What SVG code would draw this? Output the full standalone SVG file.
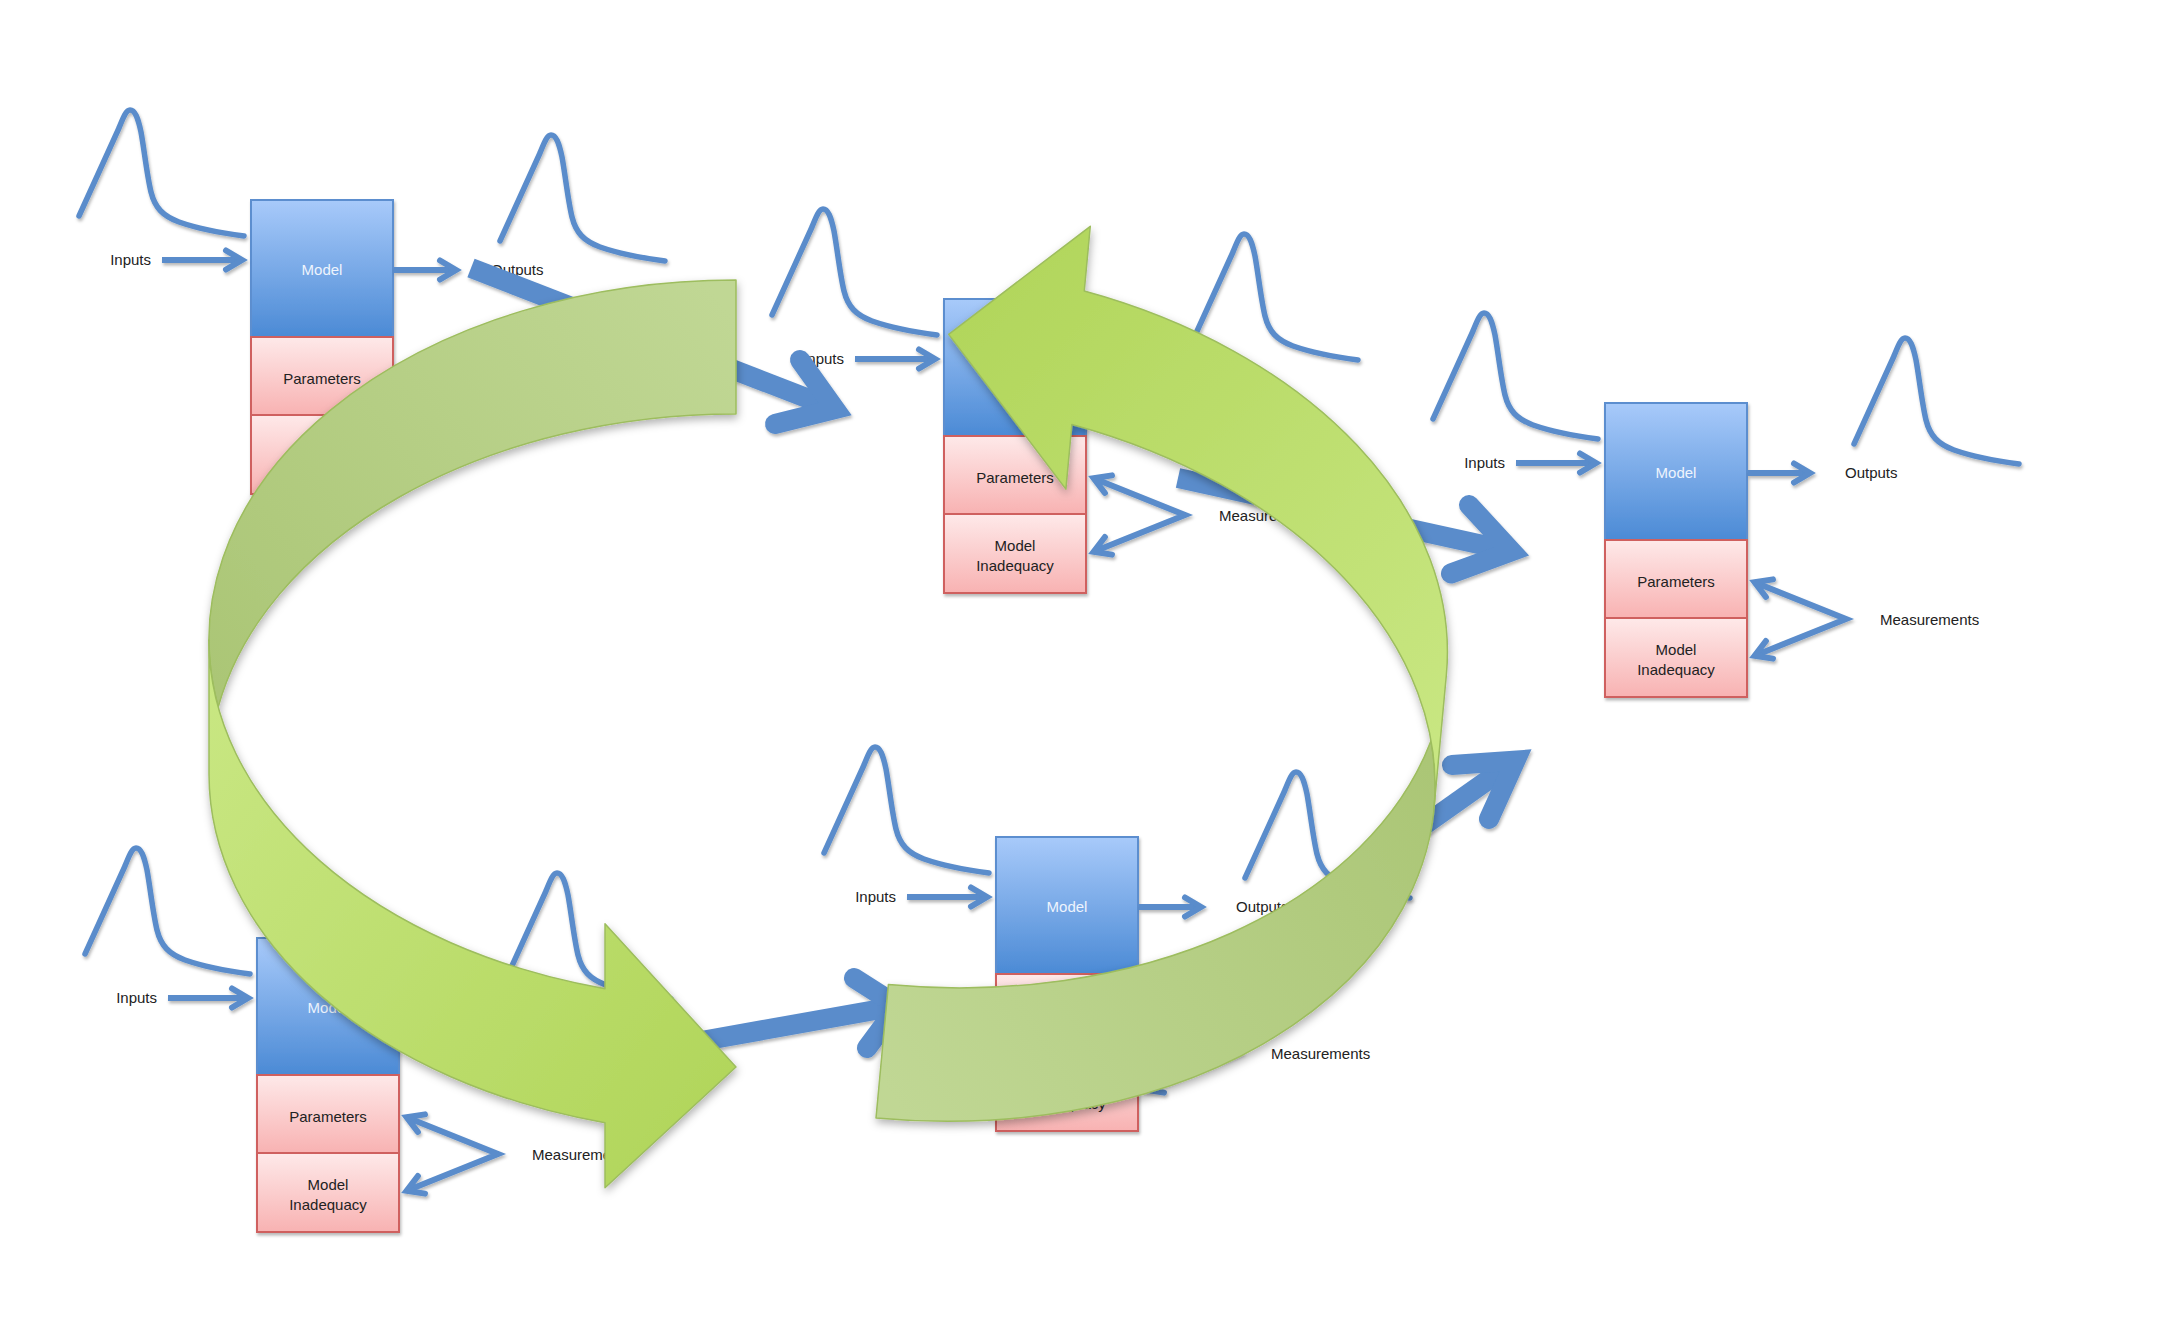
<svg xmlns="http://www.w3.org/2000/svg" xmlns:xlink="http://www.w3.org/1999/xlink" width="2170" height="1328" viewBox="0 0 2170 1328">
  <defs>
    <style>
      text { font-family: "Liberation Sans", Arial, sans-serif; font-size: 15px; fill: #222; }
      .mt { fill: #eef4fd; text-anchor: middle; }
      .ct { text-anchor: middle; }
      .rt { text-anchor: end; }
      .curve { fill: none; stroke: #5a8ccb; stroke-width: 5.5; stroke-linecap: round; stroke-linejoin: round; }
      .thin { fill: none; stroke: #5a8ccb; stroke-width: 6; stroke-linejoin: miter; }
      .arr { marker-end: url(#vh); }
      .arr2 { marker-start: url(#vh); marker-end: url(#vh); }
      .shaft { fill: none; stroke: #5a8ccb; stroke-width: 20; stroke-linecap: butt; }
      .head { fill: none; stroke: #5a8ccb; stroke-width: 20; stroke-linecap: round; stroke-linejoin: miter; stroke-miterlimit: 6; }
      .model { fill: url(#gModel); stroke: #5b8ecf; stroke-width: 2; }
      .pink { fill: url(#gPink); stroke: #cf605e; stroke-width: 2; }
      .back { fill: url(#gBack); stroke: #9dbd5e; stroke-width: 1.5; stroke-linejoin: round; }
      .front { fill: url(#gFront); stroke: #9dbd5e; stroke-width: 1.5; stroke-linejoin: round; }
    </style>

    <linearGradient id="gModel" x1="0" y1="0" x2="0" y2="1">
      <stop offset="0" stop-color="#a8cafa"/>
      <stop offset="1" stop-color="#4b8ad5"/>
    </linearGradient>
    <linearGradient id="gPink" x1="0" y1="0" x2="0" y2="1">
      <stop offset="0" stop-color="#fee9e9"/>
      <stop offset="1" stop-color="#f8b2b2"/>
    </linearGradient>
    <!-- ribbon colours, in the local frame of the curved arrow -->
    <linearGradient id="gFront" gradientUnits="userSpaceOnUse" x1="-527" y1="380" x2="0" y2="787">
      <stop offset="0" stop-color="#c9e783"/>
      <stop offset="1" stop-color="#b2d65c"/>
    </linearGradient>
    <linearGradient id="gBack" gradientUnits="userSpaceOnUse" x1="0" y1="40" x2="-500" y2="430">
      <stop offset="0" stop-color="#c0d794"/>
      <stop offset="1" stop-color="#abc676"/>
    </linearGradient>

    <filter id="sh" x="-50%" y="-50%" width="200%" height="200%">
      <feDropShadow dx="1.2" dy="2.5" stdDeviation="1.6" flood-color="#000" flood-opacity="0.28"/>
    </filter>
    <filter id="gsh" x="-10%" y="-10%" width="125%" height="125%">
      <feDropShadow dx="1" dy="4" stdDeviation="4" flood-color="#000" flood-opacity="0.3"/>
    </filter>

    <!-- open V head for the thin arrows -->
    <marker id="vh" markerUnits="userSpaceOnUse" orient="auto-start-reverse" refX="0" refY="0" markerWidth="40" markerHeight="40" style="overflow:visible">
      <path d="M-16,-9.5 L0,0 L-16,9.5" fill="none" stroke="#5a8ccb" stroke-width="6" stroke-linecap="round" stroke-linejoin="miter"/>
    </marker>

    <!-- skewed peak used for input and output distributions -->
    <path id="bell" d="M0,0 L40,-88 C44,-98 47,-106 51,-106 C56,-106 59,-98 62,-84 C65,-68 68,-40 72,-24 C76,-8 84,0 100,6 C120,13 142,17 165,20"/>

    <!-- curved ribbon arrow: back band (top) twists into front band ending in a head -->
    <g id="cyc">
      <path class="back" d="M0,134 A527,360 0 0 0 -517.8,427 A527,360 0 0 1 0,0 Z"/>
      <path class="front" d="M-527,360 A527,360 0 0 0 -131,708.7 L-131,643.7 L0,787 L-131,907.7 L-131,842.7 A527,360 0 0 1 -527,494 Z"/>
    </g>
  </defs>

  <rect width="2170" height="1328" fill="#ffffff"/>

  <!-- model stages -->
  <g id="node-1" transform="translate(251,200)">
    <use href="#bell" x="-172" y="16" class="curve" filter="url(#sh)"/>
    <use href="#bell" x="249" y="41" class="curve" filter="url(#sh)"/>
    <g filter="url(#sh)">
      <rect class="model" x="0" y="0" width="142" height="137"/>
      <rect class="pink" x="0" y="137" width="142" height="78"/>
      <rect class="pink" x="0" y="215" width="142" height="79"/>
    </g>
    <text class="mt" x="71" y="75">Model</text>
    <text class="ct" x="71" y="184">Parameters</text>
    <text class="ct" x="71" y="252">Model</text>
    <text class="ct" x="71" y="272">Inadequacy</text>
    <text class="rt" x="-100" y="65">Inputs</text>
    <text x="240" y="75">Outputs</text>
    <text x="275" y="222">Measurements</text>
  </g>

  <g id="node-2" transform="translate(944,299)">
    <use href="#bell" x="-172" y="16" class="curve" filter="url(#sh)"/>
    <use href="#bell" x="249" y="41" class="curve" filter="url(#sh)"/>
    <g filter="url(#sh)">
      <rect class="model" x="0" y="0" width="142" height="137"/>
      <rect class="pink" x="0" y="137" width="142" height="78"/>
      <rect class="pink" x="0" y="215" width="142" height="79"/>
    </g>
    <text class="mt" x="71" y="75">Model</text>
    <text class="ct" x="71" y="184">Parameters</text>
    <text class="ct" x="71" y="252">Model</text>
    <text class="ct" x="71" y="272">Inadequacy</text>
    <text class="rt" x="-100" y="65">Inputs</text>
    <text x="240" y="75">Outputs</text>
    <text x="275" y="222">Measurements</text>
  </g>

  <g id="node-3" transform="translate(1605,403)">
    <use href="#bell" x="-172" y="16" class="curve" filter="url(#sh)"/>
    <use href="#bell" x="249" y="41" class="curve" filter="url(#sh)"/>
    <g filter="url(#sh)">
      <rect class="model" x="0" y="0" width="142" height="137"/>
      <rect class="pink" x="0" y="137" width="142" height="78"/>
      <rect class="pink" x="0" y="215" width="142" height="79"/>
    </g>
    <text class="mt" x="71" y="75">Model</text>
    <text class="ct" x="71" y="184">Parameters</text>
    <text class="ct" x="71" y="252">Model</text>
    <text class="ct" x="71" y="272">Inadequacy</text>
    <text class="rt" x="-100" y="65">Inputs</text>
    <text x="240" y="75">Outputs</text>
    <text x="275" y="222">Measurements</text>
  </g>

  <g id="node-4" transform="translate(996,837)">
    <use href="#bell" x="-172" y="16" class="curve" filter="url(#sh)"/>
    <use href="#bell" x="249" y="41" class="curve" filter="url(#sh)"/>
    <g filter="url(#sh)">
      <rect class="model" x="0" y="0" width="142" height="137"/>
      <rect class="pink" x="0" y="137" width="142" height="78"/>
      <rect class="pink" x="0" y="215" width="142" height="79"/>
    </g>
    <text class="mt" x="71" y="75">Model</text>
    <text class="ct" x="71" y="184">Parameters</text>
    <text class="ct" x="71" y="252">Model</text>
    <text class="ct" x="71" y="272">Inadequacy</text>
    <text class="rt" x="-100" y="65">Inputs</text>
    <text x="240" y="75">Outputs</text>
    <text x="275" y="222">Measurements</text>
  </g>

  <g id="node-5" transform="translate(257,938)">
    <use href="#bell" x="-172" y="16" class="curve" filter="url(#sh)"/>
    <use href="#bell" x="249" y="41" class="curve" filter="url(#sh)"/>
    <g filter="url(#sh)">
      <rect class="model" x="0" y="0" width="142" height="137"/>
      <rect class="pink" x="0" y="137" width="142" height="78"/>
      <rect class="pink" x="0" y="215" width="142" height="79"/>
    </g>
    <text class="mt" x="71" y="75">Model</text>
    <text class="ct" x="71" y="184">Parameters</text>
    <text class="ct" x="71" y="252">Model</text>
    <text class="ct" x="71" y="272">Inadequacy</text>
    <text class="rt" x="-100" y="65">Inputs</text>
    <text x="240" y="75">Outputs</text>
    <text x="275" y="222">Measurements</text>
  </g>

  <!-- connectors: input/output/measurement arrows per stage, then the stage-to-stage arrows -->
  <g id="connectors">
    <g transform="translate(251,200)" filter="url(#sh)">
      <path class="thin arr" d="M-89,60 L-9,60"/>
      <path class="thin arr" d="M143,70 L205,70"/>
      <path class="thin arr2" d="M149.6,179.2 L241,216 L149.6,252.8"/>
    </g>
    <g transform="translate(944,299)" filter="url(#sh)">
      <path class="thin arr" d="M-89,60 L-9,60"/>
      <path class="thin arr" d="M143,70 L205,70"/>
      <path class="thin arr2" d="M149.6,179.2 L241,216 L149.6,252.8"/>
    </g>
    <g transform="translate(1605,403)" filter="url(#sh)">
      <path class="thin arr" d="M-89,60 L-9,60"/>
      <path class="thin arr" d="M143,70 L205,70"/>
      <path class="thin arr2" d="M149.6,179.2 L241,216 L149.6,252.8"/>
    </g>
    <g transform="translate(996,837)" filter="url(#sh)">
      <path class="thin arr" d="M-89,60 L-9,60"/>
      <path class="thin arr" d="M143,70 L205,70"/>
      <path class="thin arr2" d="M149.6,179.2 L241,216 L149.6,252.8"/>
    </g>
    <g transform="translate(257,938)" filter="url(#sh)">
      <path class="thin arr" d="M-89,60 L-9,60"/>
      <path class="thin arr" d="M143,70 L205,70"/>
      <path class="thin arr2" d="M149.6,179.2 L241,216 L149.6,252.8"/>
    </g>

    <g filter="url(#sh)">
      <!-- stage 1 to stage 2 -->
      <path class="shaft" d="M471,268 L835,409"/>
      <path class="head" d="M800,360 L835,409 L775,424"/>
      <!-- stage 2 to stage 3 -->
      <path class="shaft" d="M1178,478 L1511.6,551.3"/>
      <path class="head" d="M1469,505 L1511.6,551.3 L1451,573.5"/>
      <!-- stage 5 to stage 4 -->
      <path class="shaft" d="M640,1052 L898,1006"/>
      <path class="head" d="M854,978 L898,1006 L867,1048"/>
      <!-- stage 4 to stage 3 -->
      <path class="shaft" d="M1372.6,861.6 L1515.5,760.5"/>
      <path class="head" d="M1452,765 L1515.5,760.5 L1489,819"/>
    </g>
  </g>

  <!-- the two curved arrows forming the cycle -->
  <g id="cycle">
    <g filter="url(#gsh)">
      <use href="#cyc" transform="translate(736,280)"/>
    </g>
    <g filter="url(#gsh)">
      <use href="#cyc" transform="translate(876,1118) rotate(185.3)"/>
    </g>
  </g>
</svg>
